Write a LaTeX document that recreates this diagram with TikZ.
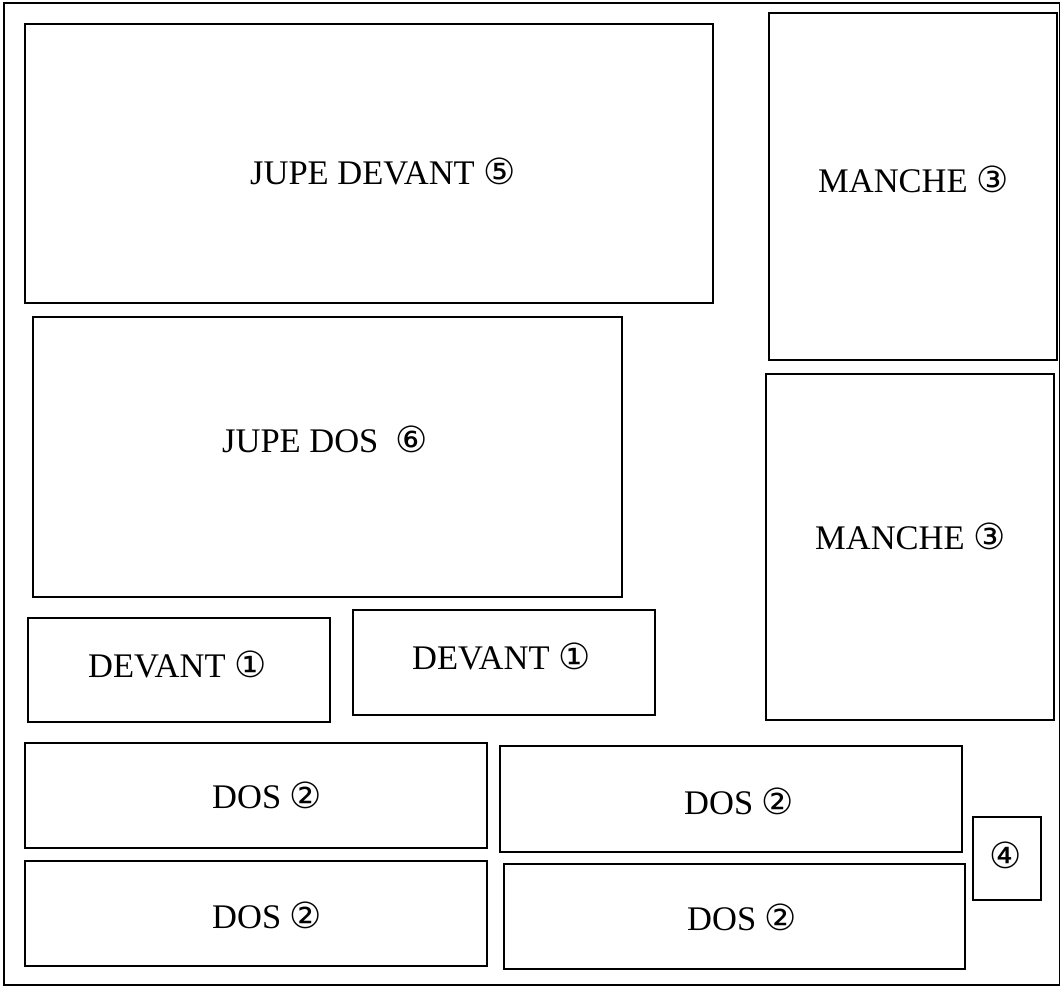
\documentclass[tikz,border=0pt]{standalone}
\usepackage{fontspec}
\setmainfont{Liberation Serif}
\newfontfamily\circfont{DejaVu Sans}
\newcommand{\num}[1]{{\circfont\fontsize{36}{40}\selectfont #1}}
\begin{document}
\begin{tikzpicture}[x=1pt, y=-1pt,
    % pattern pieces
    piece/.style = {draw, line width=1.3pt},
    % piece names
    lbl/.style = {anchor=base west, inner sep=0pt,
        font=\fontsize{34.5}{40}\selectfont}]
    \useasboundingbox (0,0) rectangle (1061,987);
    % fabric
    \draw[piece] (4,3) rectangle (1059.5,985);
    % pieces
    \draw[piece] (25,24) rectangle (713,303);
    \draw[piece] (769,13) rectangle (1057,360);
    \draw[piece] (33,317) rectangle (622,597);
    \draw[piece] (766,374) rectangle (1054,720);
    \draw[piece] (28,618) rectangle (330,722);
    \draw[piece] (353,610) rectangle (655,715);
    \draw[piece] (25,743) rectangle (487,848);
    \draw[piece] (500,746) rectangle (962,852);
    \draw[piece] (25,861) rectangle (487,966);
    \draw[piece] (504,864) rectangle (965,969);
    \draw[piece] (973,817) rectangle (1041,900);
    % labels
    \node[lbl] (jupedevant) at (250,185) {JUPE DEVANT \num{⑤}};
    \node[lbl] (manche1) at (818,193) {MANCHE \num{③}};
    \node[lbl] (jupedos) at (222,452) {JUPE DOS\ \ \num{⑥}};
    \node[lbl] (manche2) at (815,549) {MANCHE \num{③}};
    \node[lbl] (devant1) at (88,677) {DEVANT \num{①}};
    \node[lbl] (devant2) at (412,669) {DEVANT \num{①}};
    \node[lbl] (dos1) at (212,808) {DOS \num{②}};
    \node[lbl] (dos2) at (684,814) {DOS \num{②}};
    \node[lbl] (dos3) at (212,928) {DOS \num{②}};
    \node[lbl] (dos4) at (687,930) {DOS \num{②}};
    \node[lbl] (col) at (989,868) {\num{④}};
\end{tikzpicture}
\end{document}
